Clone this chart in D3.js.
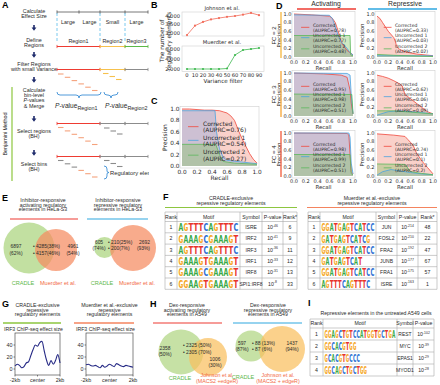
<!DOCTYPE html>
<html><head><meta charset="utf-8">
<script src="https://cdn.jsdelivr.net/npm/d3@7"></script>
<style>
body{margin:0;background:#fff}
svg{display:block;font-family:"Liberation Sans",Arial,sans-serif}
</style></head><body>
<svg id="fig" width="440" height="385"></svg>
<script>
// ---- data ----
const varianceFilter = [0, 10, 20, 30, 40, 50, 60, 70, 80, 90];
const johnsonCounts = [2880, 3430, 3650, 3800, 3880, 3950, 4000, 4080, 4180, 4050];
const muerdterCounts = [2000, 2000, 2000, 2000, 2000, 2100, 4800, 5800, 6000, 6200];
const johnsonTicks = [3000, 3500, 4000];
const muerdterTicks = [2000, 4000, 6000];

const prNames = ["Corrected", "Uncorrected 1", "Uncorrected 2"];
const cCurves = [
  [[0,1],[0.1,1],[0.2,0.99],[0.3,0.98],[0.4,0.98],[0.5,0.97],[0.55,0.95],[0.6,0.93],[0.65,0.88],[0.7,0.8],[0.73,0.7],[0.76,0.6],[0.8,0.48],[0.85,0.35],[0.9,0.22],[0.95,0.12],[1,0.05]],
  [[0,0.97],[0.44,0.97],[0.46,0.6],[0.5,0.3],[0.55,0.15],[0.6,0.1],[0.8,0.07],[1,0.04]],
  [[0,0.38],[0.45,0.38],[0.5,0.2],[0.55,0.08],[0.7,0.05],[1,0.03]]
];
const cAuprc = ["0.76", "0.54", "0.27"];

const fcLabels = ["FC = 2", "FC = 3", "FC = 4"];
const actCurves = [
  [[[0,1],[0.3,0.98],[0.6,0.95],[0.65,0.9],[0.7,0.8],[0.75,0.6],[0.78,0.45],[0.82,0.3],[0.9,0.15],[1,0.05]],
   [[0,0.98],[0.6,0.97],[0.65,0.9],[0.7,0.7],[0.75,0.5],[0.8,0.35],[0.9,0.2],[0.95,0.1],[1,0.05]],
   [[0,0.5],[0.95,0.5],[0.96,0.05],[1,0.03]]],
  [[[0,1],[0.5,0.98],[0.8,0.95],[0.9,0.9],[0.95,0.6],[0.97,0.3],[1,0.05]],
   [[0,1],[0.9,0.99],[0.95,0.95],[0.97,0.5],[1,0.05]],
   [[0,0.51],[0.98,0.5],[1,0.05]]],
  [[[0,1],[0.9,0.99],[0.93,0.95],[0.95,0.5],[0.97,0.1],[1,0.05]],
   [[0,1],[0.93,1],[0.95,0.9],[0.97,0.3],[1,0.05]],
   [[0,0.5],[0.95,0.5],[0.97,0.05],[1,0.03]]]
];
const repCurves = [
  [[[0,0.95],[0.05,0.9],[0.1,0.8],[0.2,0.6],[0.3,0.45],[0.33,0.35],[0.35,0.25],[0.4,0.18],[0.5,0.12],[0.7,0.07],[1,0.03]],
   [[0,0.03],[1,0.03]],
   [[0,0.06],[0.3,0.04],[1,0.01]]],
  [[[0,0.95],[0.1,0.92],[0.2,0.88],[0.3,0.82],[0.4,0.75],[0.45,0.7],[0.5,0.5],[0.55,0.45],[0.6,0.4],[0.7,0.3],[0.8,0.2],[0.9,0.1],[1,0.05]],
   [[0,0.02],[0.2,0.1],[0.4,0.12],[0.6,0.1],[0.8,0.08],[1,0.05]],
   [[0,0.12],[0.3,0.12],[0.6,0.09],[1,0.05]]],
  [[[0,0.98],[0.3,0.95],[0.5,0.92],[0.55,0.85],[0.6,0.78],[0.65,0.7],[0.7,0.55],[0.75,0.45],[0.8,0.35],[0.9,0.2],[1,0.05]],
   [[0,0.02],[0.1,0.1],[0.25,0.15],[0.4,0.12],[0.6,0.08],[0.8,0.05],[1,0.03]],
   [[0,0.28],[0.5,0.27],[0.6,0.1],[0.8,0.06],[1,0.03]]]
];
const actAuprc = [["0.78","0.77","0.48"], ["0.95","0.98","0.51"], ["0.98","0.99","0.51"]];
const repAuprc = [["0.33","0.03","0.02"], ["0.62","0.06","0.09"], ["0.74","0.1","0.2"]];

const fLeftRanks = [1, 2, 3, 4, 5, 6];
const fLeftMotifs = ["AGTTTCAGTTTC", "GAAAGCGAAAGT", "AGTTTCAGTTTC", "GAAAGTGAAAGT", "GAAAGCGAAAGT", "GGAAGTGAAAGT"];
const fLeftSymbols = ["ISRE", "IRF2", "IRF3", "IRF1", "IRF8", "SPI1:IRF8"];
const fLeftExp = ["-46", "-41", "-36", "-33", "-31", "-8"];
const fLeftRankStar = [6, 9, 11, 12, 13, 33];
const fRightMotifs = ["GGATGAGTCATCC", "GATGAGTCATCG", "GGATGAGTCATCC", "GATGAGTCAT", "GGATGAGTCATCC", "AGTTTCAGTTTC"];
const fRightSymbols = ["JUN", "FOSL2", "FRA2", "JUNB", "FRA1", "ISRE"];
const fRightExp = ["-214", "-210", "-192", "-177", "-175", "-163"];
const fRightRankStar = [48, 22, 47, 67, 57, 1];

const gPositions = [-2000,-1800,-1600,-1400,-1200,-1000,-800,-600,-400,-200,0,200,400,600,800,1000,1200,1400,1600,1800,2000];
const gCradle = [5, 8, 6, 2, 4, 10, 12, 22, 32, 40, 38, 44, 46, 30, 15, 6, 14, 8, 14, 24, 10];
const gMuerdter = [7, 8, 6, 5, 6, 4, 2, 6, 3, 5, 8, 6, 4, 9, 7, 5, 4, 6, 5, 4, 3];

const iRanks = [1, 2, 3, 4];
const iMotifs = ["GGAGCTGTCCATGGTGCTGA", "GGCACGTGG", "GCACGTGCCC", "GGCAGCTGCTGG"];
const iSymbols = ["REST", "MYC", "EPAS1", "MYOD1"];
const iExp = ["-102", "-39", "-29", "-28"];

// ---- helpers ----
const svg = d3.select("#fig");
const MPL = '"DejaVu Sans", sans-serif';
const RED = "#ee3b32", BLUE = "#2ea7e0", GREEN = "#8dc63f", SALMON = "#f4845f";

function text(g, x, y, s, o = {}) {
  return g.append("text").attr("x", x).attr("y", y)
    .attr("font-size", o.size || 5.4)
    .attr("text-anchor", o.anchor || "middle")
    .attr("fill", o.fill || "#2a2a2a")
    .attr("font-family", o.family || null)
    .attr("font-weight", o.weight || null)
    .attr("font-style", o.style || null)
    .text(s);
}
function lines(g, x, y, arr, o = {}) {
  arr.forEach((s, i) => text(g, x, y + i * (o.lh || 4.7), s, o));
}
function panelLabel(x, y, s) {
  text(svg, x, y, s, { size: 9, weight: "bold", anchor: "start", fill: "#000" });
}
function rotText(g, x, y, s, o = {}) {
  g.append("text").attr("transform", `translate(${x},${y}) rotate(-90)`)
    .attr("text-anchor", "middle").attr("font-size", o.size || 6)
    .attr("font-family", o.family || null).attr("fill", o.fill || "#222").text(s);
}
function hline(g, x0, x1, y, c, w) {
  g.append("line").attr("x1", x0).attr("x2", x1).attr("y1", y).attr("y2", y)
    .attr("stroke", c).attr("stroke-width", w || 1);
}

// ---- A ----
panelLabel(2, 8, "A");
const gA = svg.append("g");
svg.append("clipPath").attr("id", "clipA").append("rect").attr("x", 0).attr("y", 0).attr("width", 149).attr("height", 192);
gA.attr("clip-path", "url(#clipA)");
const aTicks = [57, 79, 100, 125, 148];
const aSteps = [
  { t: ["Calculate", "Effect Size"], y: 13 },
  { t: ["Define", "Regions"], y: 42 },
  { t: ["Filter Regions", "with small Variance"], y: 66 },
  { t: ["Calculate", "bin-level", "P-values", "& Merge"], y: 92 },
  { t: ["Select regions", "(BH)"], y: 133 },
  { t: ["Select bins", "(BH)"], y: 166 }
];
aSteps.forEach(s => s.t.forEach((l, i) => {
  const tx = text(gA, 34, s.y + i * 5.2, "", { size: 5.4 });
  if (l === "P-values") { tx.append("tspan").attr("font-style", "italic").text("P"); tx.append("tspan").text("-values"); }
  else tx.text(l);
}));
[28, 55, 80, 119, 153].forEach(y => {
  gA.append("path").attr("d", `M33.2,${y - 3}h1.6v2.5h1.6l-2.4,3.2l-2.4,-3.2h1.6z`).attr("fill", "#1d2a6b");
});
gA.append("line").attr("x1", 12).attr("x2", 12).attr("y1", 87).attr("y2", 181).attr("stroke", GREEN).attr("stroke-width", 1.2);
rotText(gA, 7, 134, "Benjamini Method", { size: 5.4 });

function seg(x0, x1, y, c) {
  hline(gA, x0, x1, y, c, 1);
  [x0, x1].forEach(x => gA.append("line").attr("x1", x).attr("x2", x).attr("y1", y - 1.6).attr("y2", y + 1.6).attr("stroke", c).attr("stroke-width", 0.8));
}
function dashes(x, y, n, dx, dy, c) {
  for (let i = 0; i < n; i++) hline(gA, x + i * dx, x + i * dx + 5.5, y + i * dy, c, 1.1);
}
const GRAY = "#8c8c8c", YEL = "#f6c14d", ORG = "#f5a27c", RGREEN = "#5bb947";
hline(gA, 57, 148, 12, "#555", 0.8);
aTicks.forEach(x => gA.append("line").attr("x1", x).attr("x2", x).attr("y1", 10.4).attr("y2", 13.6).attr("stroke", "#555").attr("stroke-width", 0.8));
[57, 100, 125].forEach(x => gA.append("line").attr("x1", x).attr("x2", x).attr("y1", 13).attr("y2", 43).attr("stroke", "#6cc3ec").attr("stroke-width", 0.9).attr("stroke-dasharray", "3,2"));
["Large", "Large", "Small", "Large"].forEach((s, i) => text(gA, (aTicks[i] + aTicks[i + 1]) / 2, 24, s, { size: 5.4 }));
[["Region1", 78.5], ["Region2", 112.5], ["Region3", 136.5]].forEach(d => text(gA, d[1], 43, d[0], { size: 5.4 }));
seg(57, 100, 46.5, RED); seg(100, 125, 46.5, YEL); seg(125, 148, 46.5, RGREEN);
seg(57, 100, 69.5, RED); seg(100, 125, 69.5, YEL); seg(125, 148, 69.5, GRAY);
dashes(58, 74, 6, 6.8, 3.3, ORG); dashes(103, 73.5, 3, 6.5, 3, YEL);
function brace(x0, x1, y) {
  const m = (x0 + x1) / 2;
  gA.append("path").attr("d", `M${x0},${y} Q${x0},${y + 3} ${x0 + 3},${y + 3} L${m - 3},${y + 3} Q${m},${y + 3} ${m},${y + 6} Q${m},${y + 3} ${m + 3},${y + 3} L${x1 - 3},${y + 3} Q${x1},${y + 3} ${x1},${y}`)
    .attr("fill", "none").attr("stroke", "#3d8fd6").attr("stroke-width", 0.9);
}
brace(57, 101, 92); brace(104, 118, 92);
[[55, "Region1"], [105, "Region2"]].forEach(d => {
  const t = text(gA, d[0], 108, "", { anchor: "start", size: 6.6 });
  t.append("tspan").attr("font-style", "italic").text("P");
  t.append("tspan").text("-value");
  t.append("tspan").attr("font-size", 5.4).attr("dy", 2).text(d[1]);
});
seg(57, 100, 123.5, RED); seg(100, 125, 123.5, GRAY); seg(125, 148, 123.5, GRAY);
dashes(58, 127.5, 6, 6.8, 3.4, ORG); dashes(104, 128, 3, 6.5, 3, GRAY);
seg(57, 100, 156.5, RED); seg(100, 125, 156.5, GRAY); seg(125, 148, 156.5, GRAY);
dashes(58, 160.5, 3, 6.8, 3.3, GRAY); dashes(78.4, 170.4, 3, 6.8, 3.3, ORG); dashes(104, 160.5, 3, 6.5, 3, GRAY);
gA.append("path").attr("d", "M104,166 Q107,166 107,169 L107,171 Q107,172.5 109,172.5 Q107,172.5 107,174 L107,176 Q107,179 104,179")
  .attr("fill", "none").attr("stroke", "#3d8fd6").attr("stroke-width", 0.9);
text(gA, 110, 175, "Regulatory element", { anchor: "start", size: 5.8 });

// ---- B ----
panelLabel(151, 8, "B");
const gB = svg.append("g").attr("font-family", MPL);
const bx = d3.scaleLinear().domain([0, 90]).range([187, 259]);
const bPanels = [
  { title: "Johnson et al.", vals: johnsonCounts, ticks: johnsonTicks, y: d3.scaleLinear().domain([3000, 4000]).range([33, 16]), top: 12, bot: 36, c: "#f26c5a" },
  { title: "Muerdter et al.", vals: muerdterCounts, ticks: muerdterTicks, y: d3.scaleLinear().domain([2000, 6000]).range([69, 49]), top: 46, bot: 71.5, c: "#3fb950" }
];
bPanels.forEach(p => {
  gB.append("rect").attr("x", 182).attr("y", p.top).attr("width", 82).attr("height", p.bot - p.top).attr("fill", "none").attr("stroke", "#cfcfcf").attr("stroke-width", 0.6);
  text(gB, 222, p.top - 2.5, p.title, { size: 5.2 });
  p.ticks.forEach(t => text(gB, 180, p.y(t) + 1.9, d3.format(",")(t), { size: 5.2, anchor: "end" }));
  const pts = varianceFilter.map((v, i) => [v, p.vals[i]]);
  gB.append("path").attr("d", d3.line().x(d => bx(d[0])).y(d => p.y(d[1]))(pts)).attr("fill", "none").attr("stroke", p.c).attr("stroke-width", 0.8);
  gB.selectAll(null).data(pts).enter().append("circle").attr("cx", d => bx(d[0])).attr("cy", d => p.y(d[1])).attr("r", 1.1).attr("fill", p.c);
});
varianceFilter.forEach(v => text(gB, bx(v), 77, v, { size: 5.2 }));
text(gB, 223, 83, "Variance filter", { size: 5.6 });
rotText(gB, 164, 41, "The number of", { size: 5.8, family: MPL });
rotText(gB, 170.5, 41, "regulatory elements", { size: 5.8, family: MPL });

// ---- PR plots (C, D) ----
const prColor = ["#f0483c", "#4aa3df", "#5cb85c"];
const prFill = ["#f28b7a", "#8aa8e0", "#86c56a"];
const legendP = [0.69, 0.45, 0.19];
function prPanel(g, xr, yr, curves, auprc, o) {
  const x = d3.scaleLinear().domain([0, 1]).range(xr);
  const y = d3.scaleLinear().domain([0, 1]).range(yr);
  g.append("rect").attr("x", xr[0] - 2).attr("y", yr[1] - 2.5).attr("width", xr[1] - xr[0] + 4).attr("height", yr[0] - yr[1] + 4.5)
    .attr("fill", "none").attr("stroke", "#cfcfcf").attr("stroke-width", 0.6);
  const area = d3.area().x(d => x(d[0])).y0(y(0)).y1(d => y(d[1]));
  const line = d3.line().x(d => x(d[0])).y(d => y(d[1]));
  curves.forEach((c, i) => g.append("path").attr("d", area(c)).attr("fill", prFill[i]).attr("fill-opacity", 0.4));
  curves.forEach((c, i) => g.append("path").attr("d", line(c)).attr("fill", "none").attr("stroke", prColor[i]).attr("stroke-width", 0.8));
  const ticks = [0, 0.2, 0.4, 0.6, 0.8, 1];
  ticks.forEach(t => {
    text(g, x(t), yr[0] + 2 + o.fs, t.toFixed(1), { size: o.fs, family: MPL });
    text(g, xr[0] - 2.5, y(t) + o.fs * 0.36, t.toFixed(1), { size: o.fs, anchor: "end", family: MPL });
  });
  text(g, (xr[0] + xr[1]) / 2, yr[0] + 2 + o.fs * 2.1, "Recall", { size: o.lab, family: MPL });
  rotText(g, xr[0] - o.fs * 2.3 - 1.5, (yr[0] + yr[1]) / 2, "Precision", { size: o.lab, family: MPL });
  legendP.forEach((p, i) => {
    g.append("line").attr("x1", x(o.lx)).attr("x2", x(o.lx + 0.14)).attr("y1", y(p)).attr("y2", y(p)).attr("stroke", prColor[i]).attr("stroke-width", 0.8);
    text(g, x(o.lx + 0.2), y(p) - 0.8, prNames[i], { size: o.leg, anchor: "start", family: MPL });
    text(g, x(o.lx + 0.2), y(p) + o.leg * 0.95, `(AUPRC=${auprc[i]})`, { size: o.leg, anchor: "start", family: MPL });
  });
}
panelLabel(151, 104, "C");
prPanel(svg.append("g"), [182, 257], [166, 109], cCurves, cAuprc, { fs: 5.8, lab: 6, leg: 6, lx: 0.08 });

panelLabel(276, 9, "D");
text(svg, 326, 6, "Activating", { size: 6.8 });
hline(svg, 297, 356, 9, RED, 1.4);
text(svg, 405, 6, "Repressive", { size: 6.8 });
hline(svg, 368, 437, 9, BLUE, 1.4);
const dRowsY = [[57, 14], [116, 73], [176, 133]];
const fcColors = ["#f6b63c", "#f7a534", "#f15a3a"];
fcLabels.forEach((f, r) => {
  prPanel(svg.append("g"), [294, 353], dRowsY[r], actCurves[r], actAuprc[r], { fs: 5, lab: 5.4, leg: 4.6, lx: 0.12 });
  prPanel(svg.append("g"), [377, 433], dRowsY[r], repCurves[r], repAuprc[r], { fs: 5, lab: 5.4, leg: 4.6, lx: 0.12 });
  rotText(svg, 276, (dRowsY[r][0] + dRowsY[r][1]) / 2, f, { size: 6 });
  svg.append("line").attr("x1", 281).attr("x2", 281).attr("y1", dRowsY[r][1] - 2).attr("y2", dRowsY[r][0] + 1).attr("stroke", fcColors[r]).attr("stroke-width", 1.3);
});

// ---- E ----
panelLabel(2, 201, "E");
const gE = svg.append("g");
lines(gE, 43, 202, ["Inhibitor-responsive", "activating regulatory", "elements in HeLa-S3"], { size: 5.2 });
hline(gE, 10, 78, 219, RED, 1.2);
lines(gE, 118, 202, ["Inhibitor-responsive", "repressive regulatory", "elements in HeLa-S3"], { size: 5.2 });
hline(gE, 87, 148, 219, BLUE, 1.2);
function venn(g, a, b, cA, cB) {
  g.append("circle").attr("cx", a[0]).attr("cy", a[1]).attr("r", a[2]).attr("fill", cA).attr("fill-opacity", 0.8);
  g.append("circle").attr("cx", b[0]).attr("cy", b[1]).attr("r", b[2]).attr("fill", cB).attr("fill-opacity", 0.72);
}
const VS = 4.9;
venn(gE, [29, 248, 25.5], [56, 250, 21], "#b3d88a", "#f58b60");
lines(gE, 16, 248, ["6897", "(62%)"], { size: VS, lh: 6.5 });
text(gE, 33, 248, "• 4285(38%)", { size: VS, anchor: "start" });
text(gE, 33, 254.5, "• 4157(46%)", { size: VS, anchor: "start" });
lines(gE, 73, 248, ["4961", "(54%)"], { size: VS, lh: 6.5 });
text(gE, 23, 285, "CRADLE", { size: 5.6, fill: "#5fb84a" });
text(gE, 58, 285, "Muerdter et al.", { size: 5.6, fill: "#f26a45" });
venn(gE, [104.5, 247.5, 10.5], [133, 248, 23], "#b3d88a", "#f58b60");
lines(gE, 99, 244, ["605", "(74%)"], { size: VS, lh: 6 });
text(gE, 108, 244, "• 210(25%)", { size: VS, anchor: "start" });
text(gE, 108, 250, "• 200(7%)", { size: VS, anchor: "start" });
lines(gE, 150, 244, ["2692", "(93%)"], { size: VS, lh: 6, anchor: "end" });
text(gE, 102, 285, "CRADLE", { size: 5.6, fill: "#5fb84a" });
text(gE, 137, 285, "Muerdter et al.", { size: 5.6, fill: "#f26a45" });

// ---- tables ----
const LOGO = { A: "#3aa948", C: "#2c6fd3", G: "#f6a623", T: "#e8332b" };
// each letter measured, then stretched to its slot
function logo(g, x0, yTop, yBot, seq, w) {
  const h = yBot - yTop;
  seq.split("").forEach((ch, i) => {
    const t = g.append("text").attr("font-size", 6).attr("font-weight", "bold").attr("font-family", MPL)
      .attr("fill", LOGO[ch]).text(ch);
    const len = t.node().getComputedTextLength() || 4.5;
    t.attr("transform", `translate(${x0 + i * w},${yBot}) scale(${(w * 0.96) / len},${h / 4.4})`);
  });
}
function pval(g, x, y, e) {
  const t = text(g, x, y, "10", { size: 5.2 });
  t.append("tspan").attr("font-size", 3.4).attr("dy", -2.3).text(e);
}
function table(g, cols, top, headH, rowH, header, rows, nRows) {
  const bottom = top + headH + rowH * nRows;
  const st = "#a8a8a8";
  [top, top + headH].concat(d3.range(1, nRows + 1).map(i => top + headH + i * rowH)).forEach(y => hline(g, cols[0], cols[cols.length - 1], y, st, 0.6));
  cols.forEach(x => g.append("line").attr("x1", x).attr("x2", x).attr("y1", top).attr("y2", bottom).attr("stroke", st).attr("stroke-width", 0.6));
  header.forEach((h, i) => text(g, (cols[i] + cols[i + 1]) / 2, top + headH / 2 + 1.9, h, { size: 5.2 }));
  for (let r = 0; r < nRows; r++) rows(r, top + headH + r * rowH, top + headH + (r + 1) * rowH);
}
panelLabel(163, 200, "F");
const gF = svg.append("g");
lines(gF, 231, 200, ["CRADLE-exclusive", "repessive regulatory elements"], { size: 5.2 });
hline(gF, 165, 297, 207.5, GREEN, 1.2);
const fl = [165, 177, 240, 262, 283, 297];
table(gF, fl, 212, 9.5, 11.3, ["Rank", "Motif", "Symbol", "P-value", "Rank*"], (r, y0, y1) => {
  const cy = (y0 + y1) / 2 + 1.9;
  text(gF, (fl[0] + fl[1]) / 2, cy, fLeftRanks[r], { size: 5.2 });
  logo(gF, fl[1] + 1.5, y0 + 2, y1 - 1.6, fLeftMotifs[r], (fl[2] - fl[1] - 3) / 12);
  text(gF, (fl[2] + fl[3]) / 2, cy, fLeftSymbols[r], { size: 5 });
  pval(gF, (fl[3] + fl[4]) / 2, cy, fLeftExp[r]);
  text(gF, (fl[4] + fl[5]) / 2, cy, fLeftRankStar[r], { size: 5.2 });
}, 6);
lines(gF, 372, 200, ["Muerdter et al.-exclusive", "repessive regulatory elements"], { size: 5.2 });
hline(gF, 307, 437, 207.5, SALMON, 1.2);
const fr = [308, 320, 376, 397, 418, 437];
table(gF, fr, 212, 9.5, 11.3, ["Rank", "Motif", "Symbol", "P-value", "Rank*"], (r, y0, y1) => {
  const cy = (y0 + y1) / 2 + 1.9;
  text(gF, (fr[0] + fr[1]) / 2, cy, fLeftRanks[r], { size: 5.2 });
  logo(gF, fr[1] + 1.5, y0 + 2, y1 - 1.6, fRightMotifs[r], (fr[2] - fr[1] - 3) / 13);
  text(gF, (fr[2] + fr[3]) / 2, cy, fRightSymbols[r], { size: 5 });
  pval(gF, (fr[3] + fr[4]) / 2, cy, fRightExp[r]);
  text(gF, (fr[4] + fr[5]) / 2, cy, fRightRankStar[r], { size: 5.2 });
}, 6);

// ---- G ----
panelLabel(2, 307, "G");
const gG = svg.append("g");
function chipPlot(x0, x1, title, lineCol, vals) {
  const cx = (x0 + x1) / 2;
  lines(gG, cx, 307, title, { size: 5.2 });
  hline(gG, x0 - 12, x1 + 1, 323, lineCol, 1.4);
  text(gG, cx - 4, 330.5, "IRF3 ChIP-seq effect size", { size: 5.2 });
  const x = d3.scaleLinear().domain([-2000, 2000]).range([x0, x1]);
  const y = d3.scaleLinear().domain([-10, 60]).range([375, 333]);
  gG.append("rect").attr("x", x0).attr("y", 333).attr("width", x1 - x0).attr("height", 42).attr("fill", "none").attr("stroke", "#333").attr("stroke-width", 0.6);
  [0, 20, 40].forEach(t => {
    gG.append("line").attr("x1", x0 - 1.5).attr("x2", x0).attr("y1", y(t)).attr("y2", y(t)).attr("stroke", "#333").attr("stroke-width", 0.6);
    text(gG, x0 - 2.5, y(t) + 1.9, t, { size: 5.4, anchor: "end" });
  });
  [[-2000, "-2kb"], [0, "center"], [2000, "2kb"]].forEach(d => {
    gG.append("line").attr("x1", x(d[0])).attr("x2", x(d[0])).attr("y1", 375).attr("y2", 376.5).attr("stroke", "#333").attr("stroke-width", 0.6);
    text(gG, x(d[0]), 382, d[1], { size: 5.4 });
  });
  const pts = gPositions.map((p, i) => [p, vals[i]]);
  gG.append("path").attr("d", d3.line().curve(d3.curveMonotoneX).x(d => x(d[0])).y(d => y(d[1]))(pts))
    .attr("fill", "none").attr("stroke", "#272b86").attr("stroke-width", 1.1);
}
chipPlot(15, 60, ["CRADLE-exclusive", "repessive", "regulatory elements"], GREEN, gCradle);
chipPlot(86, 133, ["Muerdter et al.-exclusive", "repessive", "regulatory elements"], SALMON, gMuerdter);

// ---- H ----
panelLabel(150, 307, "H");
const gH = svg.append("g");
lines(gH, 187, 307, ["Dex-responsive", "activating regulatory", "elements in A549"], { size: 5.2 });
hline(gH, 153, 222, 323, RED, 1.2);
venn(gH, [181, 352, 22.5], [208, 357, 19], "#b8da8f", "#f9bf5e");
lines(gH, 165, 350, ["2358", "(50%)"], { size: VS, lh: 6 });
text(gH, 183, 347, "• 2325 (50%)", { size: VS, anchor: "start" });
text(gH, 183, 353.5, "• 2305 (70%)", { size: VS, anchor: "start" });
lines(gH, 215, 361, ["1006", "(30%)"], { size: VS, lh: 5.6 });
text(gH, 180, 380, "CRADLE", { size: 5.6, fill: "#5fb84a" });
lines(gH, 217, 377, ["Johnson et al.", "(MACS2 +edgeR)"], { size: 5.3, fill: "#f26a45", lh: 6 });

lines(gH, 268, 307, ["Dex-responsive", "repressive regulatory", "elements in A549"], { size: 5.2 });
hline(gH, 233, 302, 323, BLUE, 1.2);
venn(gH, [251, 346, 15.5], [282, 349, 23], "#b8da8f", "#f9bf5e");
lines(gH, 242, 345, ["597", "(87%)"], { size: VS, lh: 6 });
text(gH, 252, 345, "• 88 (13%)", { size: VS, anchor: "start" });
text(gH, 252, 351, "• 87 (6%)", { size: VS, anchor: "start" });
lines(gH, 292, 345, ["1437", "(94%)"], { size: VS, lh: 6 });
text(gH, 243, 379, "CRADLE", { size: 5.6, fill: "#5fb84a" });
lines(gH, 278, 377, ["Johnson et al.", "(MACS2 + edgeR)"], { size: 5.3, fill: "#f26a45", lh: 6 });

// ---- I ----
panelLabel(308, 306, "I");
const gI = svg.append("g");
text(gI, 376, 315, "Repressive elements in the untreated A549 cells", { size: 5.2 });
const ic = [310, 323, 397, 413, 434];
table(gI, ic, 319, 9, 12, ["Rank", "Motif", "Symbol", "P-value"], (r, y0, y1) => {
  const cy = (y0 + y1) / 2 + 1.9;
  text(gI, (ic[0] + ic[1]) / 2, cy, iRanks[r], { size: 5.2 });
  logo(gI, ic[1] + 1.5, y0 + 2.2, y1 - 1.8, iMotifs[r], (ic[2] - ic[1] - 3) / 20);
  text(gI, (ic[2] + ic[3]) / 2, cy, iSymbols[r], { size: 5 });
  pval(gI, (ic[3] + ic[4]) / 2, cy, iExp[r]);
}, 4);
</script></body></html>
